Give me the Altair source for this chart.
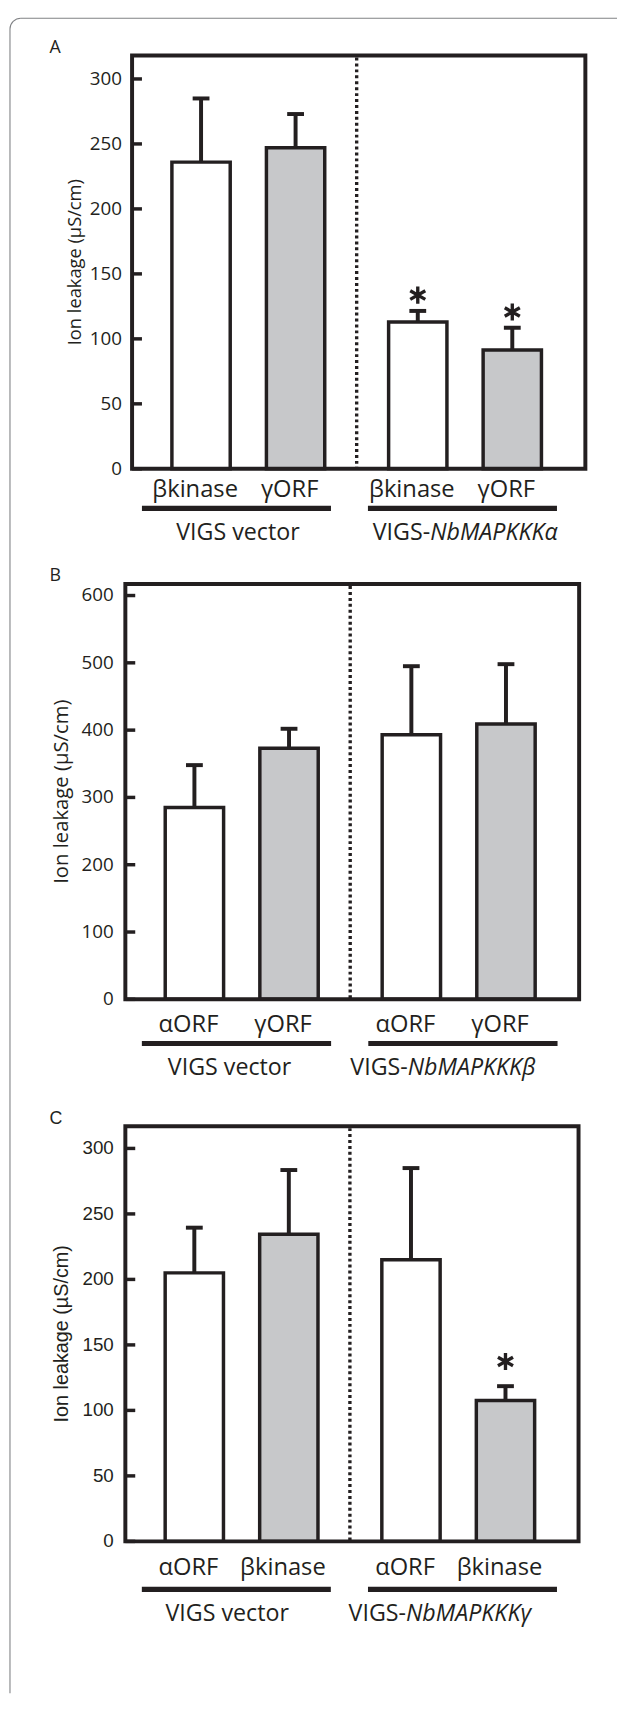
import altair as alt
import pandas as pd

INK = "#231f20"
GREY = "#c7c8ca"
EDGE = "#808285"

# ---------------- data ----------------
A_groups = ["VIGS vector", "VIGS vector", "VIGS-NbMAPKKKα", "VIGS-NbMAPKKKα"]
A_samples = ["βkinase", "γORF", "βkinase", "γORF"]
A_means = [236, 247, 113, 91.5]
A_errors = [49, 26, 8.5, 17]
A_signif = [False, False, True, True]
A_yticks = [0, 50, 100, 150, 200, 250, 300]
A_ymax = 318
A_group_plain = ["VIGS vector", "VIGS-"]
A_group_italic = ["", "NbMAPKKKα"]

B_groups = ["VIGS vector", "VIGS vector", "VIGS-NbMAPKKKβ", "VIGS-NbMAPKKKβ"]
B_samples = ["αORF", "γORF", "αORF", "γORF"]
B_means = [285, 373, 393, 409]
B_errors = [63, 29, 102, 89]
B_signif = [False, False, False, False]
B_yticks = [0, 100, 200, 300, 400, 500, 600]
B_ymax = 617
B_group_plain = ["VIGS vector", "VIGS-"]
B_group_italic = ["", "NbMAPKKKβ"]

C_groups = ["VIGS vector", "VIGS vector", "VIGS-NbMAPKKKγ", "VIGS-NbMAPKKKγ"]
C_samples = ["αORF", "βkinase", "αORF", "βkinase"]
C_means = [205, 234.5, 215, 107.5]
C_errors = [34.5, 49, 70, 11]
C_signif = [False, False, False, True]
C_yticks = [0, 50, 100, 150, 200, 250, 300]
C_ymax = 317
C_group_plain = ["VIGS vector", "VIGS-"]
C_group_italic = ["", "NbMAPKKKγ"]

YTITLE = "Ion leakage (µS/cm)"
STAR = "M0,-1L0,1M-0.88,-0.5L0.88,0.5M-0.88,0.5L0.88,-0.5"

# whole figure size
FIG_W, FIG_H = 616, 1690

# band layout of the x scales
PI, PO, AL = 0.1277, 0.1097, 0.457
PI2, PO2 = 0.383, 0.1915


def group_centers(W):
    step = W / (2 - PI + 2 * PO)
    start = (W - step * (2 - PI)) * AL
    bw = step * (1 - PI)
    return start + bw / 2, start + bw / 2 + step


def one():
    return alt.Chart(pd.DataFrame({"k": [0]}))


def panel(letter, groups, samples, means, errors, signif, yticks, ymax,
          g_plain, g_italic, s):
    W, H, ox, oy = s["w"], s["h"], s["ox"], s["oy"]
    df = pd.DataFrame({"group": groups, "slot": [0, 1, 0, 1], "sample": samples,
                       "mean": means, "err": errors, "sig": signif})
    df["hi"] = df["mean"] + df["err"]
    base = alt.Chart(df)
    xs = alt.X("group:N", sort=None, axis=None,
               scale=alt.Scale(range=[ox, ox + W], paddingInner=PI, paddingOuter=PO,
                               align=AL))
    xo = alt.XOffset("slot:N", scale=alt.Scale(paddingInner=PI2, paddingOuter=PO2))
    ysc = alt.Scale(domain=[0, ymax], range=[oy + H, oy], nice=False, zero=True)
    layers = []

    # bars
    layers.append(base.mark_bar(stroke=INK, strokeWidth=3.5).encode(
        x=xs, xOffset=xo,
        y=alt.Y("mean:Q", scale=ysc, axis=None),
        fill=alt.Fill("slot:N", scale=alt.Scale(domain=[0, 1], range=["#ffffff", GREY]),
                      legend=None)))
    # error stems and caps
    layers.append(base.mark_rule(color=INK, strokeWidth=4).encode(
        x=xs, xOffset=xo, y=alt.Y("mean:Q", scale=ysc, axis=None), y2="hi:Q"))
    layers.append(base.mark_tick(color=INK, thickness=4, size=17, opacity=1).encode(
        x=xs, xOffset=xo, y=alt.Y("hi:Q", scale=ysc, axis=None)))
    # significance stars
    layers.append(base.transform_filter("datum.sig").mark_point(
        shape=STAR, size=300, filled=False, stroke=INK, strokeWidth=3.4, opacity=1,
        yOffset=-s["star"]).encode(
        x=xs, xOffset=xo, y=alt.Y("hi:Q", scale=ysc, axis=None)))
    # frame
    layers.append(one().mark_rect(fillOpacity=0, stroke=INK, strokeWidth=4).encode(
        x=alt.value(ox), x2=alt.value(ox + W), y=alt.value(oy), y2=alt.value(oy + H)))
    # y axis: inward ticks, tick labels and title
    tdf = alt.Chart(pd.DataFrame({"t": yticks}))
    layers.append(tdf.mark_rule(color=INK, strokeWidth=3.5).encode(
        y=alt.Y("t:Q", scale=ysc, axis=None), x=alt.value(ox), x2=alt.value(ox + 10)))
    layers.append(tdf.mark_text(font=s["tfont"], fontSize=s["tsize"], color=INK,
                                align="right", baseline="middle").encode(
        y=alt.Y("t:Q", scale=ysc, axis=None), x=alt.value(ox + s["labx"]), text="t:Q"))
    layers.append(one().mark_text(text=YTITLE, font=s["tfont"], fontSize=s["ttsize"],
                                  color=INK, angle=270, align="center",
                                  baseline="middle").encode(
        x=alt.value(ox + s["tx"]), y=alt.value(oy + H / 2)))
    # dotted divider
    c1, c2 = group_centers(W)
    layers.append(one().mark_rule(color=INK, strokeWidth=3.4, strokeDash=[3, 3]).encode(
        x=alt.value(ox + (c1 + c2) / 2), y=alt.value(oy + 2), y2=alt.value(oy + H)))
    # sample labels
    layers.append(base.mark_text(font="Open Sans", fontSize=24, color=INK,
                                 baseline="alphabetic", dx=-6).encode(
        x=xs, xOffset=xo, y=alt.value(oy + H + s["lab"]), text="sample:N"))
    # group underline + group labels
    gkeys = [groups[0], groups[2]]
    for gi, gk in enumerate(gkeys):
        gsel = base.transform_filter(
            (alt.datum.slot == 0) & (alt.datum.group == gk))
        yl = oy + H + s["ul"]
        layers.append(gsel.mark_bar(color=INK, xOffset=s["ul_dx"][gi]).encode(
            x=xs, y=alt.value(yl - 2.6), y2=alt.value(yl + 2.6)))
        yg = oy + H + s["grp"]
        if g_italic[gi]:
            layers.append(gsel.mark_text(font="Open Sans", fontSize=23.5, color=INK,
                                         align="right", baseline="alphabetic",
                                         dx=s["g_dx"][gi]).encode(
                x=xs, y=alt.value(yg), text=alt.value(g_plain[gi])))
            layers.append(gsel.mark_text(font="Open Sans", fontSize=23.5, color=INK,
                                         fontStyle="italic", align="left",
                                         baseline="alphabetic",
                                         dx=s["g_dx"][gi]).encode(
                x=xs, y=alt.value(yg), text=alt.value(g_italic[gi])))
        else:
            layers.append(gsel.mark_text(font="Open Sans", fontSize=23.5, color=INK,
                                         align="center", baseline="alphabetic",
                                         dx=s["g_dx"][gi]).encode(
                x=xs, y=alt.value(yg), text=alt.value(g_plain[gi])))
    # panel letter
    layers.append(one().mark_text(text=letter, font=s["tfont"], fontSize=18, color=INK,
                                  align="left", baseline="alphabetic").encode(
        x=alt.value(ox + s["lx"]), y=alt.value(oy + s["ly"])))

    return alt.layer(*layers)


SA = dict(ox=125.5, oy=38.4, w=458.5, h=418, lx=-83.5, ly=-2.8, tx=-57.5, labx=-10.2,
          tfont="Open Sans", tsize=19, ttsize=18.5,
          lab=29, ul=40, grp=72.4, star=16, ul_dx=[-12, -2.6], g_dx=[-10.5, -35.3])
SB = dict(ox=118.7, oy=573, w=459, h=420, lx=-76.7, ly=-2.7, tx=-63.7, labx=-11.7,
          tfont="Open Sans", tsize=19, ttsize=20.5,
          lab=32.9, ul=44.7, grp=76.8, star=16, ul_dx=[-5.3, 4.3], g_dx=[-12.3, -51.5])
SC = dict(ox=118.7, oy=1121.3, w=458.4, h=420, lx=-76.7, ly=-2.6, tx=-64.2, labx=-11.7,
          tfont="Liberation Sans", tsize=19, ttsize=20,
          lab=33.5, ul=48.6, grp=80.9, star=25, ul_dx=[-5.3, 4.3], g_dx=[-14.5, -52.8])

pA = panel("A", A_groups, A_samples, A_means, A_errors, A_signif, A_yticks, A_ymax,
           A_group_plain, A_group_italic, SA)
pB = panel("B", B_groups, B_samples, B_means, B_errors, B_signif, B_yticks, B_ymax,
           B_group_plain, B_group_italic, SB)
pC = panel("C", C_groups, C_samples, C_means, C_errors, C_signif, C_yticks, C_ymax,
           C_group_plain, C_group_italic, SC)

# outer figure border: left and top sides with a rounded top-left corner
R = 11
BX, BY = 2, 0.6
border = [
    one().mark_rule(color=EDGE, strokeWidth=1.1).encode(
        x=alt.value(BX), y=alt.value(BY + R), y2=alt.value(FIG_H + 5)),
    one().mark_rule(color=EDGE, strokeWidth=1.1).encode(
        x=alt.value(BX + R), x2=alt.value(FIG_W + 5), y=alt.value(BY)),
    one().mark_arc(radius=R, radius2=R, theta=4.712389, theta2=6.283185,
                   stroke=EDGE, strokeWidth=1.1, fillOpacity=0).encode(
        x=alt.value(BX + R), y=alt.value(BY + R)),
]

chart = alt.layer(*border, pA, pB, pC).resolve_scale(
    x="independent", y="independent", xOffset="independent"
).properties(
    width=FIG_W, height=FIG_H,
    autosize=alt.AutoSizeParams(type="none"),
    padding=0,
    background="white",
).configure_view(stroke="transparent")

chart.save("out.html", embed_options={"renderer": "svg", "actions": False})
